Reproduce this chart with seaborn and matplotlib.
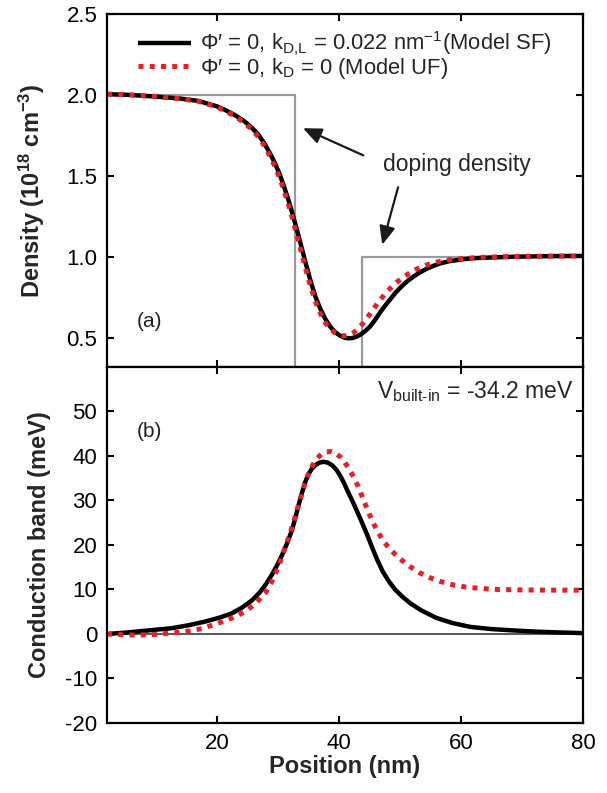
import matplotlib
matplotlib.use("Agg")
import matplotlib.pyplot as plt
import pandas as pd
import seaborn as sns

# ---- data -------------------------------------------------------------
# (a) carrier density, 1e18 cm^-3, versus position in nm
pos_density_sf = [2, 6, 10, 14, 17, 20, 21.5, 23, 24.6, 25.8, 26.8, 27.8, 28.7,
                  29.5, 30.3, 31.0, 31.7, 32.4, 33.1, 33.8, 34.6, 35.4, 36.2,
                  37.0, 37.8, 38.6, 39.4, 40.2, 41.0, 41.6, 42.2, 42.8, 43.6,
                  44.4, 45.1, 46.0, 46.8, 47.6, 48.4, 49.3, 50.2, 51.2, 52.2,
                  53.3, 54.4, 55.5, 56.6, 58, 60, 62.1, 66, 70, 75, 80]
density_sf = [2.005, 2.0, 1.99, 1.978, 1.963, 1.93, 1.905, 1.875, 1.835, 1.795,
              1.755, 1.70, 1.64, 1.58, 1.51, 1.435, 1.355, 1.265, 1.17, 1.07,
              0.955, 0.845, 0.75, 0.675, 0.615, 0.568, 0.535, 0.513, 0.50,
              0.497, 0.499, 0.506, 0.522, 0.545, 0.57, 0.615, 0.66, 0.70,
              0.738, 0.78, 0.815, 0.85, 0.878, 0.905, 0.927, 0.945, 0.96,
              0.973, 0.984, 0.992, 0.998, 1.002, 1.005, 1.006]

pos_density_uf = [2, 6, 10, 14, 17, 20, 21.5, 23, 24.6, 25.8, 26.8, 27.8, 28.7,
                  29.5, 30.3, 31.0, 31.7, 32.4, 33.1, 33.8, 34.6, 35.4, 36.2,
                  37.0, 37.8, 38.6, 39.4, 40.2, 40.9, 41.6, 42.4, 43.2, 44.0,
                  44.8, 45.6, 46.4, 47.2, 48.0, 48.8, 49.6, 50.5, 51.5, 52.5,
                  53.5, 54.6, 55.8, 57.2, 59, 61.5, 64, 67.5, 72, 76, 80]
density_uf = [2.005, 2.0, 1.99, 1.977, 1.961, 1.926, 1.90, 1.868, 1.826, 1.784,
              1.742, 1.685, 1.623, 1.56, 1.487, 1.41, 1.328, 1.236, 1.138,
              1.036, 0.92, 0.812, 0.72, 0.648, 0.592, 0.553, 0.53, 0.516,
              0.512, 0.517, 0.532, 0.558, 0.592, 0.632, 0.675, 0.717, 0.755,
              0.79, 0.82, 0.847, 0.873, 0.898, 0.92, 0.938, 0.953, 0.966,
              0.977, 0.986, 0.993, 0.998, 1.002, 1.004, 1.005, 1.006]

# doping profile (step)
doping_pos = [2, 32.8, 32.8, 43.8, 43.8, 80]
doping_level = [2.0, 2.0, 0.0, 0.0, 1.0, 1.0]

# (b) conduction band edge, meV
pos_band_sf = [2, 5, 8, 12.6, 15.5, 18.1, 20.5, 22.4, 24.2, 25.7, 27.0, 28.1,
               29.1, 30.0, 30.8, 31.6, 32.3, 32.9, 33.4, 34.0, 34.5, 35.0,
               35.6, 36.2, 36.8, 37.5, 38.2, 38.9, 39.6, 40.2, 40.8, 41.4,
               42.1, 42.9, 43.7, 44.6, 45.4, 46.2, 47.2, 48.2, 49.2, 50.3,
               51.7, 53.5, 56.0, 58.5, 61.5, 65, 68.6, 72, 76, 80]
band_sf = [0.0, 0.3, 0.7, 1.3, 2.0, 2.8, 3.7, 4.6, 6.0, 7.5, 9.3, 11.3, 13.5,
           15.8, 18.1, 20.7, 23.3, 26.3, 29.0, 32.0, 34.2, 35.9, 37.2, 38.0,
           38.5, 38.7, 38.5, 37.9, 36.9, 35.6, 34.0, 32.2, 30.2, 27.8, 25.3,
           22.4, 19.6, 16.9, 14.0, 11.8, 10.0, 8.5, 6.9, 5.3, 3.6, 2.5, 1.6,
           1.1, 0.8, 0.55, 0.35, 0.2]

pos_band_uf = [2, 5, 7.1, 10, 14.8, 17.5, 20.2, 22.5, 24.6, 26.3, 27.9, 29.0,
               30.1, 31.0, 32.0, 32.8, 33.5, 34.2, 34.9, 35.6, 36.3, 37.1, 37.9,
               38.7, 39.5, 40.3, 41.0, 41.7, 42.4, 43.1, 43.8, 44.6, 45.4, 46.2,
               47.3, 48.7, 50.0, 51.7, 53.3, 55.0, 56.6, 58.8, 61.0, 63.5,
               65.9, 70, 75, 80]
band_uf = [0.0, -0.2, -0.25, -0.1, 0.5, 1.2, 2.4, 3.6, 5.0, 6.8, 9.1, 11.8,
           15.1, 18.7, 22.6, 26.2, 29.6, 32.8, 35.6, 37.7, 39.3, 40.4, 40.9,
           41.0, 40.6, 39.7, 38.5, 37.0, 35.3, 33.3, 30.9, 28.2, 25.6, 23.4,
           20.8, 18.6, 16.9, 15.1, 13.7, 12.6, 11.8, 11.0, 10.5, 10.2, 10.0,
           9.9, 9.85, 9.85]

x_ticks = [20, 40, 60, 80]
density_ticks = [0.5, 1.0, 1.5, 2.0, 2.5]
band_ticks = [-20, -10, 0, 10, 20, 30, 40, 50]

label_sf = "Φ′ = 0, k$_{D{,}L}$ = 0.022 nm$^{-1}$(Model SF)"
label_uf = "Φ′ = 0, k$_{D}$ = 0 (Model UF)"

# ---- style ------------------------------------------------------------
sns.set_theme(style="ticks")
plt.rcParams["font.family"] = ["Liberation Sans", "DejaVu Sans"]
plt.rcParams["mathtext.fontset"] = "custom"
plt.rcParams["mathtext.rm"] = "Liberation Sans"
plt.rcParams["mathtext.it"] = "Liberation Sans:italic"
plt.rcParams["mathtext.bf"] = "Liberation Sans:bold"
plt.rcParams["mathtext.default"] = "regular"
plt.rcParams["axes.unicode_minus"] = False

black_kw = dict(color="black", linewidth=3.2, solid_capstyle="butt",
                solid_joinstyle="round")
red_kw = dict(color="#ee1c25", linewidth=3.6, linestyle=(0, (1.0, 1.25)),
              dash_capstyle="butt")

fig = plt.figure(figsize=(6.07, 7.93), dpi=100)
ax1 = fig.add_axes([0.1763, 0.5372, 0.7842, 0.4451])
ax2 = fig.add_axes([0.1763, 0.0883, 0.7842, 0.4489], sharex=ax1)

# ---- (a) density ------------------------------------------------------
dop = pd.DataFrame({"pos": doping_pos, "val": doping_level})
sf_d = pd.DataFrame({"pos": pos_density_sf, "val": density_sf})
uf_d = pd.DataFrame({"pos": pos_density_uf, "val": density_uf})

sns.lineplot(data=dop, x="pos", y="val", ax=ax1, sort=False, color="#9b9b9b",
             linewidth=1.6, estimator=None)
sns.lineplot(data=sf_d, x="pos", y="val", ax=ax1, sort=False, estimator=None,
             label=label_sf, **black_kw)
sns.lineplot(data=uf_d, x="pos", y="val", ax=ax1, sort=False, estimator=None,
             label=label_uf, **red_kw)

ax1.set_ylim(0.32, 2.5)
ax1.set_yticks(density_ticks)
ax1.set_yticklabels([f"{v:.1f}" for v in density_ticks])
ax1.set_ylabel("Density (10$^{18}$ cm$^{-3}$)", fontsize=17, fontweight="bold",
               labelpad=14)
ax1.set_xlabel("")
plt.setp(ax1.get_xticklabels(), visible=False)

leg = ax1.legend(loc="upper left", bbox_to_anchor=(0.066, 0.955), frameon=False,
                 fontsize=15.8, handlelength=2.4, handletextpad=0.4,
                 labelspacing=-0.1, borderaxespad=0, borderpad=0)

ax1.text(59.4, 1.57, "doping density", fontsize=16.5, ha="center", va="center")
arrow_kw = dict(arrowstyle="-|>,head_length=0.7,head_width=0.3", color="#1a1a1a",
                lw=1.6, mutation_scale=16, shrinkA=0, shrinkB=0)
ax1.annotate("", xy=(34.1, 1.795), xytext=(44.0, 1.627), arrowprops=arrow_kw)
ax1.annotate("", xy=(47.1, 1.075), xytext=(49.7, 1.43), arrowprops=arrow_kw)
ax1.text(9.0, 0.60, "(a)", fontsize=15, ha="center", va="center", color="#222222")

# ---- (b) conduction band ---------------------------------------------
sf_b = pd.DataFrame({"pos": pos_band_sf, "val": band_sf})
uf_b = pd.DataFrame({"pos": pos_band_uf, "val": band_uf})

ax2.axhline(0, color="#3c3c3c", linewidth=1.2, zorder=1)
sns.lineplot(data=sf_b, x="pos", y="val", ax=ax2, sort=False, estimator=None,
             **black_kw)
sns.lineplot(data=uf_b, x="pos", y="val", ax=ax2, sort=False, estimator=None,
             **red_kw)

ax2.set_ylim(-20, 60)
ax2.set_yticks(band_ticks)
ax2.set_xlim(2, 80)
ax2.set_xticks(x_ticks)
ax2.set_ylabel("Conduction band (meV)", fontsize=17, fontweight="bold",
               labelpad=10)
ax2.set_xlabel("Position (nm)", fontsize=17, fontweight="bold", labelpad=1)
ax2.text(9.0, 45.4, "(b)", fontsize=15, ha="center", va="center", color="#222222")
ax2.text(78.5, 54.5, "V$_{built\u2011in}$ = -34.2 meV", fontsize=16.5, ha="right",
         va="center")

for ax in (ax1, ax2):
    for s in ax.spines.values():
        s.set_linewidth(1.6)
        s.set_color("black")
    ax.tick_params(direction="in", top=True, right=True, length=5, width=1.5,
                   labelsize=16, colors="black", pad=7)

fig.savefig("out.png", dpi=100)
